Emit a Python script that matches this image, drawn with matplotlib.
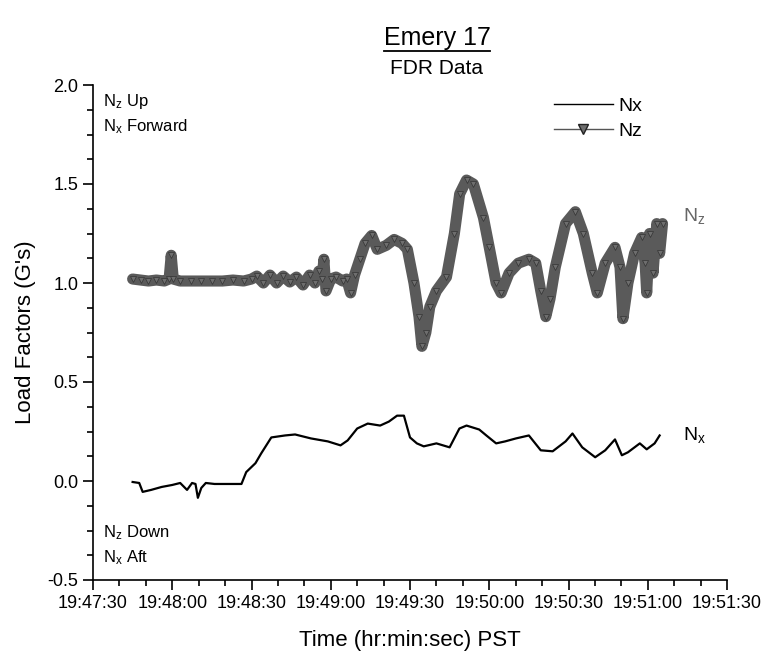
import matplotlib
matplotlib.use("Agg")
import matplotlib.pyplot as plt
from matplotlib.ticker import MultipleLocator, FuncFormatter
from matplotlib.lines import Line2D

# time axis: seconds after 19:47:30
T0_H, T0_M, T0_S = 19, 47, 30

NZ_T = [15.0, 18.0, 21.0, 24.0, 27.0, 28.8, 29.6, 30.4, 33.0, 37.0, 41.0, 45.0,
        49.0, 53.0, 57.0, 60.0, 62.0, 64.5, 67.0, 69.5, 72.0, 74.5, 77.0, 79.5,
        82.0, 84.0, 85.5, 86.7, 87.4, 88.2, 90.0, 92.0, 94.5, 96.0, 97.5, 99.0,
        101.0, 103.0, 105.5, 107.6, 111.0, 114.0, 117.0, 119.0, 121.5, 123.4,
        124.5, 126.0, 127.5, 130.0, 133.8, 136.8, 138.8, 141.4, 144.0, 147.8,
        150.0, 152.6, 154.5, 157.5, 161.0, 165.0, 167.6, 169.5, 171.4, 173.0,
        175.0, 178.9, 182.6, 185.6, 189.0, 190.9, 193.9, 197.6, 199.5, 200.6,
        202.5, 205.0, 207.7, 209.0, 209.6, 210.7, 212.0, 213.4, 214.5, 215.6]
NZ_V = [1.02, 1.015, 1.01, 1.015, 1.01, 1.02, 1.14, 1.02, 1.01, 1.01, 1.01, 1.01,
        1.01, 1.015, 1.01, 1.02, 1.035, 1.00, 1.04, 1.00, 1.035, 1.005, 1.03, 0.99,
        1.04, 1.00, 1.06, 1.02, 1.12, 0.96, 1.02, 1.03, 1.01, 1.02, 0.95, 1.04,
        1.12, 1.20, 1.24, 1.17, 1.19, 1.22, 1.20, 1.17, 1.00, 0.83,
        0.68, 0.75, 0.88, 0.96, 1.03, 1.25, 1.45, 1.52, 1.50, 1.33,
        1.18, 1.00, 0.95, 1.05, 1.10, 1.12, 1.10, 0.96, 0.83, 0.92,
        1.08, 1.30, 1.36, 1.25, 1.05, 0.95, 1.10, 1.18, 1.08, 0.82,
        1.00, 1.15, 1.23, 1.10, 0.95, 1.25, 1.05, 1.30, 1.15, 1.30]

NX_T = [15.0, 17.5, 18.8, 22.0, 26.0, 30.0, 33.0, 35.6, 37.5, 38.8, 39.7, 41.0,
        42.7, 46.0, 50.0, 56.2, 58.0, 61.5, 63.7, 67.5, 72.7, 76.5, 82.5, 88.9,
        93.7, 96.4, 100.0, 104.0, 108.7, 112.0, 115.1, 117.7, 120.0, 122.6,
        125.2, 130.0, 135.0, 138.7, 141.4, 146.2, 148.9, 152.6, 156.0, 160.1,
        165.0, 169.5, 174.0, 178.9, 181.5, 185.2, 190.1, 193.9, 197.6, 200.2,
        202.5, 207.0, 209.6, 212.6, 214.5]
NX_V = [-0.005, -0.01, -0.055, -0.045, -0.03, -0.02, -0.01, -0.045, -0.01, -0.015, -0.085, -0.035,
        -0.01, -0.015, -0.015, -0.015, 0.045, 0.09, 0.14, 0.22, 0.23, 0.235, 0.215, 0.20,
        0.18, 0.205, 0.265, 0.29, 0.28, 0.30, 0.33, 0.33, 0.22, 0.19,
        0.175, 0.19, 0.17, 0.265, 0.28, 0.26, 0.23, 0.19, 0.20, 0.215,
        0.23, 0.155, 0.15, 0.20, 0.24, 0.17, 0.12, 0.155, 0.21, 0.13,
        0.145, 0.19, 0.16, 0.19, 0.23]

plt.rcParams.update({
    "font.family": "Liberation Sans",
    "mathtext.fontset": "custom",
    "mathtext.rm": "Liberation Sans",
    "xtick.direction": "out",
    "ytick.direction": "out",
})

fig = plt.figure(figsize=(7.68, 6.53), dpi=100, facecolor="white")
ax = fig.add_axes([93 / 768, 1 - 580 / 653, 634 / 768, 495 / 653])

# Nz: dense marker band
ax.plot(NZ_T, NZ_V, color="#5a5a5a", lw=8, solid_joinstyle="round",
        solid_capstyle="round", zorder=2)
ax.plot(NZ_T, NZ_V, ls="none", marker="v", ms=5, mfc="#6e6e6e",
        mec="#333333", mew=0.5, zorder=3)
# Nx
ax.plot(NX_T, NX_V, color="black", lw=1.6, zorder=4)

ax.set_xlim(0, 240)
ax.set_ylim(-0.5, 2.0)
ax.xaxis.set_major_locator(MultipleLocator(30))
ax.xaxis.set_minor_locator(MultipleLocator(10))
ax.yaxis.set_major_locator(MultipleLocator(0.5))
ax.yaxis.set_minor_locator(MultipleLocator(0.125))


def fmt_time(v, pos):
    s = int(round(T0_H * 3600 + T0_M * 60 + T0_S + v))
    return f"{s // 3600}:{(s % 3600) // 60:02d}:{s % 60:02d}"


ax.xaxis.set_major_formatter(FuncFormatter(fmt_time))
ax.yaxis.set_major_formatter(FuncFormatter(lambda v, p: f"{v:.1f}"))
ax.tick_params(which="major", length=7, width=1.2, labelsize=13, colors="black")
ax.tick_params(which="minor", length=4, width=1.2)
ax.spines["top"].set_visible(False)
ax.spines["right"].set_visible(False)
for sp in ("left", "bottom"):
    ax.spines[sp].set_linewidth(1.2)

ax.set_xlabel("Time (hr:min:sec) PST", fontsize=16, labelpad=13)
ax.set_ylabel("Load Factors (G's)", fontsize=16, labelpad=8)

# direction notes
ax.text(0.016, 0.985, r"$\mathregular{N_z}$ Up", transform=ax.transAxes,
        fontsize=12, va="top", ha="left")
ax.text(0.016, 0.935, r"$\mathregular{N_x}$ Forward", transform=ax.transAxes,
        fontsize=12, va="top", ha="left")
ax.text(0.016, 0.115, r"$\mathregular{N_z}$ Down", transform=ax.transAxes,
        fontsize=12, va="top", ha="left")
ax.text(0.016, 0.065, r"$\mathregular{N_x}$ Aft", transform=ax.transAxes,
        fontsize=12, va="top", ha="left")

ax.text(227.6, 1.34, r"$\mathregular{N_z}$", fontsize=14, color="#666666",
        ha="center", va="center")
ax.text(227.6, 0.23, r"$\mathregular{N_x}$", fontsize=14, color="black",
        ha="center", va="center")

handles = [
    Line2D([0], [0], color="black", lw=1.0, label="Nx"),
    Line2D([0], [0], color="#555555", lw=1.0, marker="v", ms=7,
           mfc="#6e6e6e", mec="#222222", label="Nz"),
]
ax.legend(handles=handles, loc="upper left", bbox_to_anchor=(0.70, 1.01),
          frameon=False, fontsize=14, handlelength=3.0, handletextpad=0.3,
          labelspacing=0.35)

# title
title = fig.text(0.569, 1 - 38 / 653, "Emery 17", ha="center", va="center",
                 fontsize=18)
fig.text(0.569, 1 - 68 / 653, "FDR Data", ha="center", va="center",
         fontsize=15)
fig.canvas.draw()
bb = title.get_window_extent(fig.canvas.get_renderer())
W, H = fig.bbox.width, fig.bbox.height
yline = (bb.y0 - 1) / H
fig.add_artist(Line2D([bb.x0 / W, bb.x1 / W], [yline, yline],
                      color="black", lw=1.3, transform=fig.transFigure))

fig.savefig("out.png", dpi=100, facecolor="white")
